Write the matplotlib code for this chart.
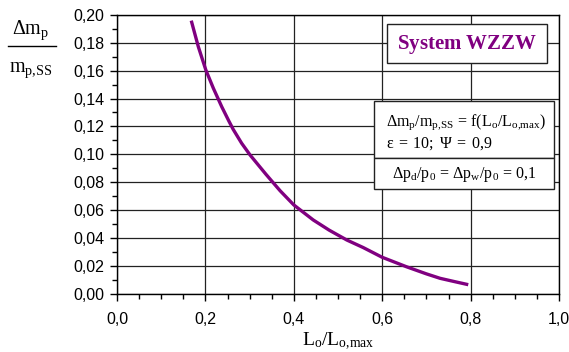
import matplotlib
matplotlib.use("Agg")
import matplotlib.pyplot as plt
from matplotlib.patches import Rectangle
from matplotlib.lines import Line2D
from matplotlib.ticker import MultipleLocator, FuncFormatter

plt.rcParams['font.family'] = ['Liberation Sans', 'DejaVu Sans']
plt.rcParams['mathtext.fontset'] = 'custom'
plt.rcParams['mathtext.rm'] = 'Liberation Serif'
plt.rcParams['mathtext.it'] = 'Liberation Serif:italic'
plt.rcParams['mathtext.bf'] = 'Liberation Serif:bold'

# L_o/L_o,max vs. relative mass change
lo_ratio = [0.169, 0.184, 0.201, 0.218, 0.237, 0.253, 0.263, 0.282, 0.301,
            0.337, 0.369, 0.400, 0.444, 0.480, 0.520, 0.557, 0.600, 0.655,
            0.700, 0.731, 0.760, 0.791]
dm_ratio = [0.1948, 0.1772, 0.1605, 0.1474, 0.1341, 0.1239, 0.1178, 0.1079,
            0.0995, 0.0856, 0.0738, 0.0636, 0.0528, 0.0455, 0.0384, 0.0330,
            0.0260, 0.0192, 0.0141, 0.0109, 0.0088, 0.0066]

W, H = 569, 352
fig = plt.figure(figsize=(W / 100, H / 100), dpi=100)
ax = fig.add_axes([117 / W, 1 - 293.5 / H, 442 / W, 278.5 / H])

ax.plot(lo_ratio, dm_ratio, color='#800080', lw=2.4, zorder=3,
        solid_joinstyle='round')

ax.set_xlim(0, 1.0)
ax.set_ylim(0, 0.20)
ax.xaxis.set_major_locator(MultipleLocator(0.2))
ax.xaxis.set_minor_locator(MultipleLocator(0.05))
ax.yaxis.set_major_locator(MultipleLocator(0.02))
ax.yaxis.set_minor_locator(MultipleLocator(0.01))
ax.xaxis.set_major_formatter(FuncFormatter(lambda v, p: f"{v:.1f}".replace('.', ',')))
ax.yaxis.set_major_formatter(FuncFormatter(lambda v, p: f"{v:.2f}".replace('.', ',')))
ax.tick_params(axis='both', which='major', direction='out', length=5, width=1,
               labelsize=11.5, color='black')
ax.tick_params(axis='both', which='minor', direction='out', length=3.5, width=1,
               color='black')
ax.tick_params(axis='x', pad=8)
ax.tick_params(axis='y', pad=4)
ax.grid(True, which='major', color='#222222', lw=0.9)
for s in ax.spines.values():
    s.set_color('black')
    s.set_linewidth(1.0)

ax.set_xlabel(r'$\mathrm{L_o/L_{o{,}max}}$', fontsize=14, labelpad=3)

# y-axis label as a fraction
fig.text(31 / W, 1 - 30 / H, r'$\mathrm{\Delta m_p}$', fontsize=14.5,
         ha='center', va='center')
fig.add_artist(Line2D([8 / W, 56 / W], [1 - 45.5 / H, 1 - 45.5 / H],
                      color='black', lw=1, transform=fig.transFigure))
fig.text(31 / W, 1 - 70 / H, r'$\mathrm{m_{p{,}SS}}$', fontsize=14.5,
         ha='center', va='center')


def fig_rect(x0, y0, x1, y1):
    return Rectangle((x0 / W, 1 - y1 / H), (x1 - x0) / W, (y1 - y0) / H,
                     transform=fig.transFigure, facecolor='white',
                     edgecolor='#222222', lw=1, zorder=5, clip_on=False)


fig.add_artist(fig_rect(387, 24, 547, 63))
fig.text(467 / W, 1 - 44 / H, r'$\mathbf{System\ WZZW}$', fontsize=15,
         color='#800080', ha='center', va='center', zorder=6)

fig.add_artist(fig_rect(374, 101, 554, 158))
fig.add_artist(fig_rect(374, 158, 554, 189))
fig.text(386 / W, 1 - 122 / H,
         r'$\mathrm{\Delta m_p/m_{p{,}SS}\,=\,f(L_o/L_{o{,}max})}$',
         fontsize=11.5, ha='left', va='center', zorder=6)
fig.text(386 / W, 1 - 144 / H, r'$\mathrm{\varepsilon\;=\;10;\ \Psi\;=\;0{,}9}$',
         fontsize=11.5, ha='left', va='center', zorder=6)
fig.text(464 / W, 1 - 175 / H,
         r'$\mathrm{\Delta p_d/p_0\,=\,\Delta p_w/p_0\,=\,0{,}1}$',
         fontsize=11.5, ha='center', va='center', zorder=6)

fig.savefig('out.png', dpi=100)
